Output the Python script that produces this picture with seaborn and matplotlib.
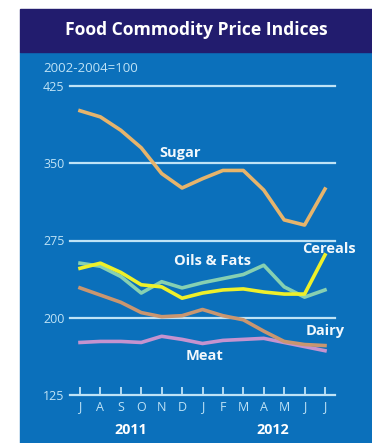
import matplotlib
matplotlib.use("Agg")
import matplotlib.pyplot as plt
import matplotlib.patches as mpatches
import numpy as np
import pandas as pd
import seaborn as sns

# Monthly FAO food commodity price indices, July 2011 - July 2012 (2002-2004=100)
months = ["J", "A", "S", "O", "N", "D", "J", "F", "M", "A", "M", "J", "J"]
sugar = [401, 395, 382, 365, 340, 326, 335, 343, 343, 324, 295, 290, 325]
cereals = [248, 253, 244, 232, 230, 219, 224, 227, 228, 225, 223, 223, 261]
oils_fats = [253, 250, 240, 224, 235, 229, 234, 238, 242, 251, 230, 220, 227]
dairy = [229, 222, 215, 205, 201, 202, 208, 202, 198, 187, 177, 174, 173]
meat = [176, 177, 177, 176, 182, 179, 175, 178, 179, 180, 176, 172, 168]
y_ticks = [125, 200, 275, 350, 425]
years = ["2011", "2012"]

series = {"Meat": meat, "Dairy": dairy, "Oils & Fats": oils_fats,
          "Cereals": cereals, "Sugar": sugar}
df = pd.concat(
    [pd.DataFrame({"month": np.arange(len(months)), "index": v, "commodity": k})
     for k, v in series.items()],
    ignore_index=True,
)
palette = {"Sugar": "#e6b46c", "Cereals": "#eef02a", "Oils & Fats": "#86d0b2",
           "Dairy": "#c99670", "Meat": "#c593cf"}

W, H = 372, 443
fig = plt.figure(figsize=(W / 100, H / 100), dpi=100)
fig.patch.set_facecolor("white")

panel_blue = "#0b70bb"
navy = "#221c6e"
grid_col = "#bfe3f6"
fig.patches.append(mpatches.Rectangle((20 / W, 0), 1 - 20 / W, 1 - 52 / H,
                                      transform=fig.transFigure, color=panel_blue, zorder=-10))
fig.patches.append(mpatches.Rectangle((20 / W, 1 - 52 / H), 1 - 20 / W, 43 / H,
                                      transform=fig.transFigure, color=navy, zorder=-10))

fig.text(196 / W, 1 - 30 / H, "Food Commodity Price Indices", ha="center", va="center",
         color="white", fontsize=12.6, fontweight="bold", family="Open Sans")

ax = fig.add_axes([70 / W, 1 - 395 / H, 265 / W, 309 / H])
ax.set_facecolor("none")
ax.set_xlim(-0.49, 12.49)
ax.set_ylim(125, 425)

for yv in y_ticks[1:]:
    ax.axhline(yv, color=grid_col, lw=1.6, zorder=1, clip_on=False)

sns.lineplot(data=df, x="month", y="index", hue="commodity", palette=palette,
             hue_order=list(series.keys()), linewidth=2.6, ax=ax, legend=False,
             zorder=3)
for ln in ax.lines:
    ln.set_clip_on(False)

for s in ["top", "right", "left"]:
    ax.spines[s].set_visible(False)
ax.spines["bottom"].set_color(grid_col)
ax.spines["bottom"].set_linewidth(1.6)

ax.set_xticks(np.arange(len(months)))
ax.set_xticklabels(months)
ax.tick_params(axis="x", direction="in", length=6, width=1.3, color=grid_col,
               labelcolor=grid_col, labelsize=9, pad=4)
ax.set_yticks(y_ticks)
ax.set_yticklabels([str(v) for v in y_ticks])
ax.tick_params(axis="y", length=0, labelcolor=grid_col, labelsize=9, pad=4)
for lab in ax.get_xticklabels() + ax.get_yticklabels():
    lab.set_family("Open Sans")
ax.set_xlabel("")
ax.set_ylabel("")

fig.text(43 / W, 1 - 69 / H, "2002-2004=100", ha="left", va="center",
         color=grid_col, fontsize=9.5, family="Open Sans")

fig.text(131 / W, 1 - 430 / H, years[0], ha="center", va="center", color="white",
         fontsize=10.3, fontweight="bold", family="Open Sans")
fig.text(273 / W, 1 - 430 / H, years[1], ha="center", va="center", color="white",
         fontsize=10.3, fontweight="bold", family="Open Sans")

labels = [("Sugar", 180, 153), ("Cereals", 329, 249), ("Oils & Fats", 212, 261),
          ("Dairy", 325, 331), ("Meat", 205, 356)]
for txt, px, py in labels:
    fig.text(px / W, 1 - py / H, txt, ha="center", va="center", color="#f2f8fc",
             fontsize=10.5, fontweight="bold", family="Open Sans")

fig.savefig("out.png", dpi=100)
